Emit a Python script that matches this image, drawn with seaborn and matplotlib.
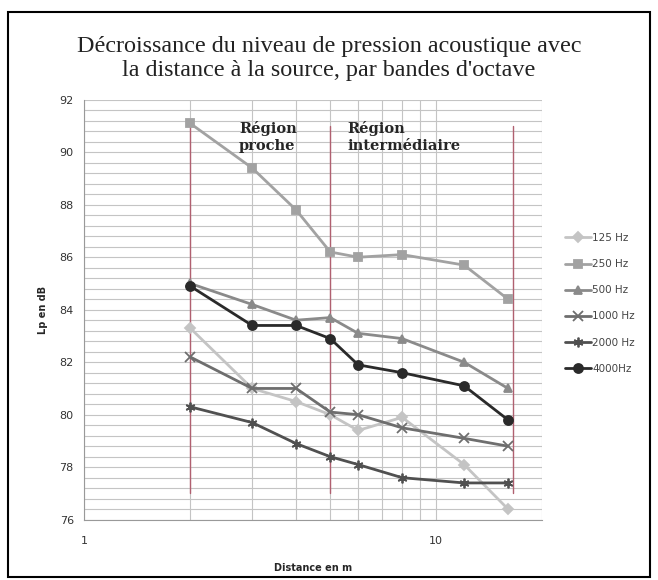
import matplotlib
matplotlib.use("Agg")
from matplotlib import pyplot as plt
from matplotlib.patches import Rectangle
from matplotlib.ticker import FixedLocator, MultipleLocator, NullFormatter
import numpy as np
import pandas as pd
import seaborn as sns

# Data
distances = [2, 3, 4, 5, 6, 8, 12, 16]
lp_125 = [83.3, 81.0, 80.5, 80.0, 79.4, 79.9, 78.1, 76.4]
lp_250 = [91.1, 89.4, 87.8, 86.2, 86.0, 86.1, 85.7, 84.4]
lp_500 = [85.0, 84.2, 83.6, 83.7, 83.1, 82.9, 82.0, 81.0]
lp_1000 = [82.2, 81.0, 81.0, 80.1, 80.0, 79.5, 79.1, 78.8]
lp_2000 = [80.3, 79.7, 78.9, 78.4, 78.1, 77.6, 77.4, 77.4]
lp_4000 = [84.9, 83.4, 83.4, 82.9, 81.9, 81.6, 81.1, 79.8]
labels = ["125 Hz", "250 Hz", "500 Hz", "1000 Hz", "2000 Hz", "4000Hz"]
region_limits = [2, 5, 16.5]

series = [lp_125, lp_250, lp_500, lp_1000, lp_2000, lp_4000]
colors = ["#c4c4c4", "#a2a2a2", "#8a8a8a", "#6e6e6e", "#505050", "#2a2a2a"]
markers = ["D", "s", "^", "x", (6, 2, 0), "o"]
msizes = [5, 6, 6, 6.5, 7, 6.5]

sns.set_style("white")
plt.rcParams['font.family'] = ['DejaVu Sans']

fig = plt.figure(figsize=(6.58, 5.8), dpi=100)
ax = fig.add_axes([0.128, 0.104, 0.696, 0.724])

for vals, lab, c, m, ms in zip(series, labels, colors, markers, msizes):
    df = pd.DataFrame({"d": distances, "lp": vals})
    sns.lineplot(data=df, x="d", y="lp", ax=ax, color=c, marker=m, markersize=ms,
                 linewidth=2.0, label=lab, markeredgecolor=c, markeredgewidth=1.3,
                 zorder=3)

ax.set_xscale("log")
ax.set_xlim(1, 20)
ax.set_ylim(76, 92)

# grid
ax.xaxis.set_major_locator(FixedLocator([1, 10]))
ax.xaxis.set_minor_locator(FixedLocator([2, 3, 4, 5, 6, 7, 8, 9, 20]))
ax.xaxis.set_minor_formatter(NullFormatter())
ax.set_xticklabels(["1", "10"])
ax.yaxis.set_major_locator(MultipleLocator(2))
ax.yaxis.set_minor_locator(MultipleLocator(0.4))
ax.grid(which="both", color="#c4c4c4", linewidth=0.8, zorder=0)
ax.tick_params(which="major", length=4, color="#999999", labelsize=8, labelcolor="#333333")
ax.tick_params(which="minor", length=0)
ax.tick_params(axis="x", pad=8)
for s in ["top", "right"]:
    ax.spines[s].set_visible(False)
for s in ["left", "bottom"]:
    ax.spines[s].set_color("#999999")

# region limits
for xr in region_limits:
    ax.plot([xr, xr], [77, 91], color="#b06070", linewidth=1, zorder=2)

ax.text(2.75, 91.2, "Région\nproche", fontsize=10.5, fontweight="bold",
        family="DejaVu Serif", va="top", linespacing=1.3)
ax.text(5.6, 91.2, "Région\nintermédiaire", fontsize=10.5, fontweight="bold",
        family="DejaVu Serif", va="top", linespacing=1.3)

ax.set_xlabel("Distance en m", fontsize=7, fontweight="bold", labelpad=12)
ax.set_ylabel("Lp en dB", fontsize=7, fontweight="bold", labelpad=8)

fig.text(0.5, 0.899, "Décroissance du niveau de pression acoustique avec\nla distance à la source, par bandes d'octave",
         ha="center", va="center", fontsize=17.4, linespacing=1.17, color="#222222",
         family="Liberation Serif")

leg = ax.legend(loc="center left", bbox_to_anchor=(1.03, 0.515), frameon=False,
                fontsize=7.5, handlelength=2.5, labelspacing=1.55, handletextpad=0.1)
for t in leg.get_texts():
    t.set_color("#444444")

# outer frame
fig.patches.append(Rectangle((0.012, 0.005), 0.976, 0.975, transform=fig.transFigure,
                             fill=False, edgecolor="black", linewidth=1.5))

fig.savefig("out.png", dpi=100)
